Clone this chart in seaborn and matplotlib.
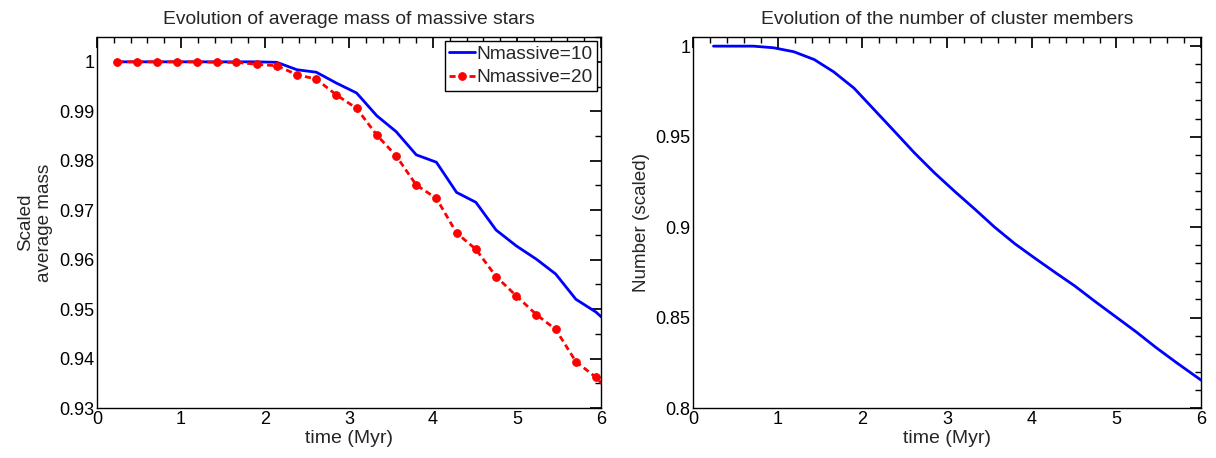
import matplotlib
matplotlib.use("Agg")
import matplotlib.pyplot as plt
import pandas as pd
import seaborn as sns
from matplotlib.ticker import FormatStrFormatter, MultipleLocator

# time grid (Myr), the last sample lies just past the plotted range
time_myr = [0.24, 0.48, 0.71, 0.95, 1.19, 1.43, 1.66, 1.90, 2.14, 2.38, 2.61, 2.85, 3.09,
            3.33, 3.56, 3.80, 4.04, 4.28, 4.51, 4.75, 4.99, 5.23, 5.46, 5.70, 5.94, 6.18]

mass_n10 = [1.0, 1.0, 1.0, 1.0, 1.0, 1.0, 1.0, 1.0, 0.9999, 0.9984, 0.9979, 0.9957, 0.9937,
            0.9891, 0.9859, 0.9812, 0.9797, 0.9736, 0.9716, 0.9660, 0.9628, 0.9601, 0.9571,
            0.9520, 0.9494, 0.9457]
mass_n20 = [1.0, 1.0, 1.0, 1.0, 1.0, 0.9999, 0.9999, 0.9995, 0.9992, 0.9974, 0.9965, 0.9933,
            0.9906, 0.9852, 0.9810, 0.9751, 0.9724, 0.9654, 0.9621, 0.9566, 0.9527, 0.9489,
            0.9459, 0.9394, 0.9362, 0.9318]
members = [1.0, 1.0, 1.0, 0.9991, 0.9969, 0.9926, 0.9858, 0.9768, 0.9648, 0.9528, 0.9412,
           0.9300, 0.9197, 0.9098, 0.9000, 0.8908, 0.8827, 0.8748, 0.8674, 0.8588, 0.8505,
           0.8422, 0.8337, 0.8254, 0.8174, 0.8095]

series_labels = ["Nmassive=10", "Nmassive=20"]

sns.set_theme(style="white")
plt.rcParams["font.family"] = ["Liberation Sans", "DejaVu Sans"]
plt.rcParams.update({
    "axes.edgecolor": "black",
    "axes.linewidth": 1.0,
    "xtick.direction": "in",
    "ytick.direction": "in",
    "xtick.top": True,
    "ytick.right": True,
    "xtick.major.size": 8,
    "ytick.major.size": 8,
    "xtick.minor.size": 4,
    "ytick.minor.size": 4,
    "xtick.minor.visible": True,
    "ytick.minor.visible": True,
    "xtick.color": "black",
    "ytick.color": "black",
})

fig = plt.figure(figsize=(12.16, 4.58), dpi=100)
ax1 = fig.add_axes([0.0798, 0.109, 0.4145, 0.810])
ax2 = fig.add_axes([0.570, 0.109, 0.4178, 0.810])

df_mass = pd.DataFrame({"time": time_myr, "n10": mass_n10, "n20": mass_n20})
sns.lineplot(data=df_mass, x="time", y="n10", ax=ax1, color="#0000ff", linewidth=2,
             label=series_labels[0])
sns.lineplot(data=df_mass, x="time", y="n20", ax=ax1, color="#ff0000", linewidth=2,
             marker="o", markersize=5.5, markeredgecolor="#ff0000",
             label=series_labels[1])
ax1.lines[1].set_dashes((2.2, 1.4))

df_num = pd.DataFrame({"time": time_myr, "number": members})
sns.lineplot(data=df_num, x="time", y="number", ax=ax2, color="#0000ff", linewidth=2)

ax1.set_xlim(0, 6)
ax1.set_ylim(0.93, 1.005)
ax1.yaxis.set_major_locator(MultipleLocator(0.01))
ax1.yaxis.set_minor_locator(MultipleLocator(0.005))
ax1.set_title("Evolution of average mass of massive stars", fontsize=13.9, pad=9.5)
ax1.set_ylabel("Scaled\naverage mass", fontsize=13.6, labelpad=4)

ax2.set_xlim(0, 6)
ax2.set_ylim(0.8, 1.005)
ax2.yaxis.set_major_locator(MultipleLocator(0.05))
ax2.yaxis.set_minor_locator(MultipleLocator(0.01))
ax2.set_title("Evolution of the number of cluster members", fontsize=13.9, pad=9.5)
ax2.set_ylabel("Number (scaled)", fontsize=13.6, labelpad=4)

for ax in (ax1, ax2):
    ax.xaxis.set_major_locator(MultipleLocator(1))
    ax.xaxis.set_minor_locator(MultipleLocator(0.2))
    ax.xaxis.set_major_formatter(FormatStrFormatter("%g"))
    ax.yaxis.set_major_formatter(FormatStrFormatter("%g"))
    ax.tick_params(axis="both", which="major", labelsize=13, pad=2)
    ax.set_xlabel("time (Myr)", fontsize=14, labelpad=1.5)
    ax.grid(False)

leg = ax1.legend(loc="upper right", fontsize=13.8, frameon=True, fancybox=False,
                 edgecolor="black", framealpha=1, borderaxespad=0.2, borderpad=0.25,
                 handlelength=1.35, handletextpad=0.05, labelspacing=0.3, numpoints=1)
leg.get_frame().set_linewidth(1.0)

fig.savefig("out.png", dpi=100)
